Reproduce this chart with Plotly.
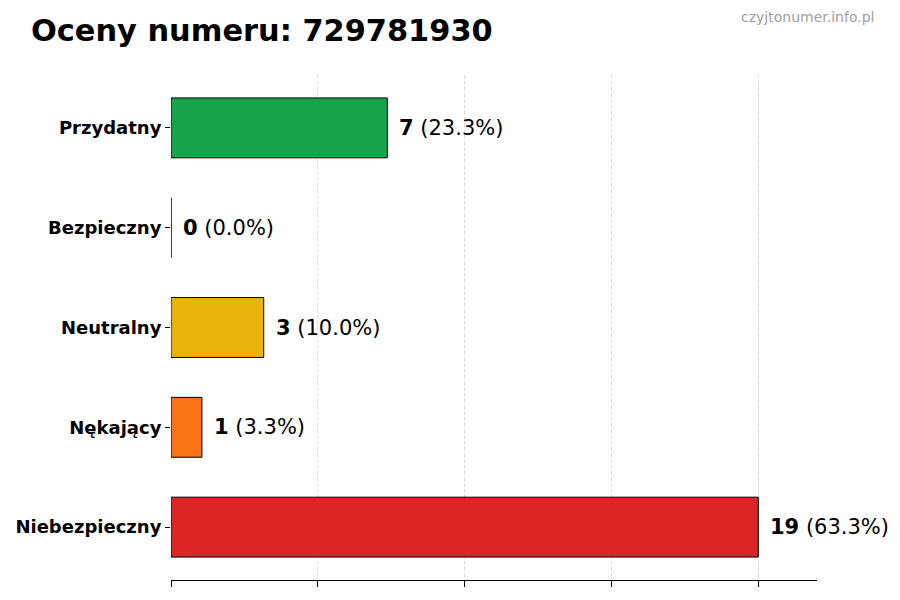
import plotly.graph_objects as go

categories = ["Niebezpieczny", "Nękający", "Neutralny", "Bezpieczny", "Przydatny"]
counts = [19, 1, 3, 0, 7]
percents = [63.3, 3.3, 10.0, 0.0, 23.3]
colors = ["#dc2626", "#f97316", "#eab308", "#22c55e", "#16a34a"]
title_text = "Oceny numeru: 729781930"
watermark = "czyjtonumer.info.pl"

W, H = 892, 592
L, R, T, B = 163, 83, 67, 20
pw, ph = W - L - R, H - T - B

maxv = max(counts)
fig = go.Figure()
fig.add_trace(go.Bar(
    x=counts, y=categories, orientation="h", width=0.6,
    marker=dict(color=colors, line=dict(color="black", width=1)),
    hoverinfo="skip",
))
for c, v, p in zip(categories, counts, percents):
    fig.add_annotation(
        x=v, y=c, xref="x", yref="y", text=f"<b>{v}</b> ({p:.1f}%)",
        showarrow=False, xanchor="left", yanchor="middle", xshift=10,
        font=dict(family="DejaVu Sans", size=21, color="black"),
    )
fig.add_annotation(
    x=(868 - L) / pw, y=1 + (T - 9) / ph, xref="paper", yref="paper", text=watermark,
    showarrow=False, xanchor="right", yanchor="middle",
    font=dict(family="DejaVu Sans", size=14, color="#a0a0a0"),
)

fig.update_layout(
    width=W, height=H,
    margin=dict(l=L, r=R, t=T, b=B, autoexpand=False),
    paper_bgcolor="white", plot_bgcolor="white",
    showlegend=False,
    title=dict(text=f"<b>{title_text}</b>", x=23 / W, xanchor="left", y=1 - 22 / H, yanchor="middle",
               font=dict(family="DejaVu Sans", size=30.4, color="black")),
)

fig.update_xaxes(
    range=[0, maxv * 1.1], automargin=False,
    tickvals=[maxv * f for f in (0, 0.25, 0.5, 0.75, 1.0)],
    showticklabels=False, ticks="outside", ticklen=6, tickcolor="black",
    showgrid=True, gridcolor="#dddddd", griddash="4px,2px", gridwidth=1,
    showline=True, linecolor="black", linewidth=1, zeroline=False,
)
fig.update_yaxes(
    range=[-0.53, 4.53], automargin=False, ticks="outside", ticklen=5, tickcolor="black",
    showline=False, showgrid=False, zeroline=False,
    tickfont=dict(family="DejaVu Sans", size=18, color="black", weight="bold"),
)
fig.write_html("out.html")
